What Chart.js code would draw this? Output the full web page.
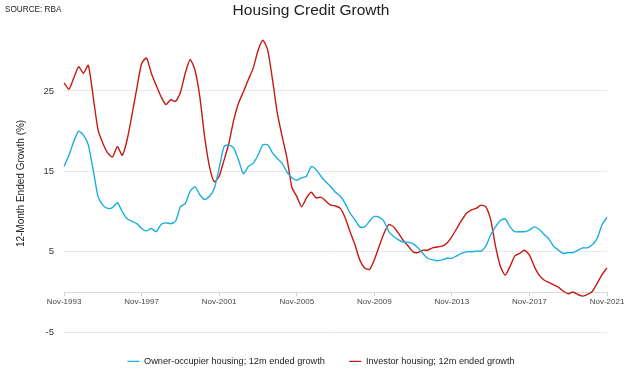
<!DOCTYPE html>
<html>
<head>
<meta charset="utf-8">
<script src="https://cdn.jsdelivr.net/npm/chart.js@4/dist/chart.umd.min.js"></script>
<style>
  html, body { margin: 0; padding: 0; background: #fff; }
  #wrap { position: relative; width: 640px; height: 370px; }
  #source { position: absolute; left: 5px; top: 5px; font: 8.2px "Liberation Sans", Arial, sans-serif; color: #222; }
</style>
</head>
<body>
<div id="wrap">
  <canvas id="myChart" width="640" height="370"></canvas>
  <div id="source">SOURCE: RBA</div>
</div>
<script>
// quarterly readings, Nov-1993 .. Nov-2021
const ownerOccupier = [
  15.6, 17.0, 18.7, 20.0, 19.5, 18.3, 15.2, 11.9, 10.8, 10.4, 10.5, 11.1, 10.0, 9.1, 8.8, 8.5,
  7.9, 7.6, 7.9, 7.5, 8.4, 8.6, 8.5, 8.8, 10.6, 11.0, 12.5, 13.1, 12.1, 11.5, 11.9, 12.9,
  15.4, 18.1, 18.3, 17.9, 16.4, 14.7, 15.6, 16.0, 17.0, 18.3, 18.3, 17.3, 16.6, 16.0, 14.9, 14.2,
  13.9, 14.2, 14.4, 15.6, 15.2, 14.4, 13.7, 13.1, 12.4, 11.9, 11.0, 9.8, 9.0, 8.1, 8.1, 8.8,
  9.4, 9.3, 8.8, 7.5, 6.9, 6.5, 6.2, 6.2, 6.0, 5.5, 4.8, 4.2, 4.0, 3.9, 4.0, 4.2,
  4.2, 4.5, 4.8, 5.0, 5.0, 5.1, 5.1, 5.7, 7.1, 8.1, 8.9, 9.1, 8.1, 7.5, 7.5, 7.5,
  7.7, 8.1, 7.8, 7.2, 6.6, 5.7, 5.2, 4.8, 4.9, 4.9, 5.2, 5.5, 5.5, 5.9, 6.7, 8.4,
  9.3
];
const investor = [
  26.0, 25.2, 26.6, 28.0, 27.2, 28.2, 24.3, 20.2, 18.5, 17.3, 16.8, 18.1, 17.0, 18.9, 22.0, 25.3,
  28.4, 29.1, 27.2, 25.7, 24.3, 23.3, 23.9, 23.7, 24.8, 27.2, 28.9, 27.6, 24.3, 19.3, 15.6, 13.7,
  14.4, 16.4, 18.5, 21.4, 23.5, 24.9, 26.4, 27.8, 30.0, 31.3, 30.1, 26.4, 22.2, 19.3, 16.6, 13.0,
  11.9, 10.6, 11.7, 12.4, 11.7, 11.8, 11.3, 10.8, 10.7, 10.4, 9.2, 7.5, 5.9, 4.0, 3.0, 2.8,
  4.0, 5.7, 7.3, 8.4, 8.1, 7.3, 6.4, 5.7, 5.0, 4.9, 5.2, 5.2, 5.5, 5.6, 5.7, 6.1,
  6.9, 7.9, 8.9, 9.8, 10.2, 10.4, 10.8, 10.6, 9.0, 5.7, 3.2, 2.1, 3.2, 4.5, 4.8, 5.2,
  4.6, 3.2, 2.1, 1.5, 1.2, 0.9, 0.6, 0.1, -0.2, 0.0, -0.3, -0.5, -0.3, 0.1, 1.1, 2.2,
  3.0
];
const tickLabels = ['Nov-1993', 'Nov-1997', 'Nov-2001', 'Nov-2005', 'Nov-2009', 'Nov-2013', 'Nov-2017', 'Nov-2021'];
const yTicks = [-5, 5, 15, 25];

const monthNames = ['Nov', 'Feb', 'May', 'Aug'];
const quarters = [];
for (let i = 0; i < ownerOccupier.length; i++) {
  const m = monthNames[i % 4];
  const yr = 1993 + Math.floor((i + 3) / 4);
  quarters.push(m + '-' + yr);
}

const font = '"Liberation Sans", Arial, sans-serif';

// legend sits a little right of where chart.js centres it
const legendShift = {
  id: 'legendShift',
  afterLayout(chart) {
    chart.legend.left += 10;
    chart.legend.right += 10;
  }
};

const ctx = document.getElementById('myChart');

const data = {
  labels: quarters,
  datasets: [{
    label: 'Owner-occupier housing; 12m ended growth',
    data: ownerOccupier,
    borderColor: '#1caee0',
    backgroundColor: '#1caee0',
    borderWidth: 1.4,
    pointRadius: 0,
    tension: 0.2
  }, {
    label: 'Investor housing; 12m ended growth',
    data: investor,
    borderColor: '#c41a12',
    backgroundColor: '#c41a12',
    borderWidth: 1.4,
    pointRadius: 0,
    tension: 0.2
  }]
};

const config = {
  type: 'line',
  data: data,
  plugins: [legendShift],
  options: {
    responsive: false,
    animation: false,
    layout: {
      padding: {left: 15, right: 33, top: 0, bottom: -6}
    },
    plugins: {
      title: {
        display: true,
        text: 'Housing Credit Growth',
        color: '#222',
        font: {family: font, size: 15.5, weight: 'normal'},
        padding: {top: 1, bottom: 15}
      },
      legend: {
        position: 'bottom',
        labels: {
          usePointStyle: true,
          pointStyle: 'line',
          pointStyleWidth: 12,
          padding: 24.5,
          color: '#222',
          font: {family: font, size: 9.2}
        }
      },
      tooltip: {enabled: false}
    },
    scales: {
      x: {
        type: 'category',
        position: {y: 0},
        grid: {
          display: true,
          drawOnChartArea: false,
          drawTicks: true,
          tickLength: 3,
          color: (c) => (c.tick && c.tick.label ? '#d0d0d0' : 'rgba(0,0,0,0)')
        },
        border: {display: true, color: '#d9d9d9'},
        ticks: {
          autoSkip: false,
          maxRotation: 0,
          padding: 2,
          color: '#444',
          font: {family: font, size: 8},
          callback: function (value, index) {
            const lab = this.getLabelForValue(value);
            return tickLabels.includes(lab) ? lab : null;
          }
        }
      },
      y: {
        type: 'linear',
        min: -5,
        max: 32,
        afterBuildTicks: (scale) => {
          scale.ticks = yTicks.map(v => ({value: v}));
        },
        grid: {color: '#e8e8e8', drawTicks: false},
        border: {display: false},
        ticks: {
          padding: 10,
          color: '#333',
          font: {family: font, size: 9.5}
        },
        title: {
          display: true,
          text: '12-Month Ended Growth (%)',
          color: '#222',
          font: {family: font, size: 10},
          padding: {top: 0, bottom: 6.5}
        }
      }
    }
  }
};

var myChart = new Chart(ctx, config);
</script>
</body>
</html>
